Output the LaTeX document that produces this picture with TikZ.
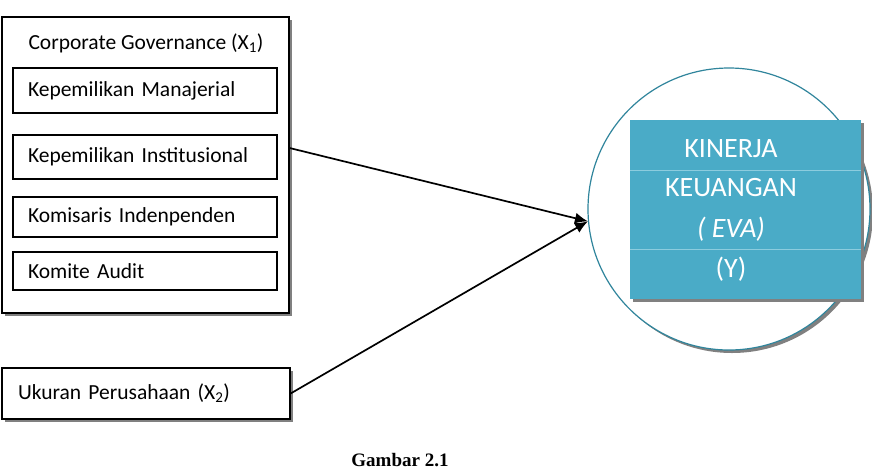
\documentclass[tikz,border=0pt]{standalone}
\usepackage{fontspec}
\setmainfont{Carlito}
\newfontfamily\capfont{Liberation Serif}
\usetikzlibrary{arrows.meta}
\usetikzlibrary{positioning}
\tikzset{box/.style = {draw, fill=white, line width=1.2pt, align=left,
                       inner ysep=0pt, font=\fontsize{21.5}{25}\selectfont}}
\tikzset{shade/.style = {fill=mgrey, draw=none}}
\tikzset{link/.style = {line width=1.7pt, -{Latex[length=13pt, width=11pt]}}}
\definecolor{mgrey}{rgb}{0.5, 0.5, 0.5}
\definecolor{mteal}{rgb}{0.19, 0.52, 0.61}
\definecolor{mcyan}{rgb}{0.29, 0.67, 0.78}
\definecolor{mline}{rgb}{0.55, 0.80, 0.87}

\begin{document}
\begin{tikzpicture}[x=1pt, y=-1pt]
      \useasboundingbox (0, 0) rectangle (872, 472);

      % left group
      \fill [shade] (5, 20) rectangle (292, 316);
      \node [box, minimum width=287pt, minimum height=296pt] (corpgov) at (145.5, 165) {};
      \node [font=\fontsize{21.5}{25}\selectfont] (title) at (146, 43) {Corporate Governance (X\textsubscript{1})};

      \node [box, text width=234pt, inner xsep=15pt, minimum height=45pt] (kepman) at (145, 90.5) {Kepemilikan Manajerial};
      \node [box, text width=234pt, inner xsep=15pt, minimum height=44pt] (kepinst) at (145, 157) {Kepemilikan Institusional};
      \node [box, text width=234pt, inner xsep=15pt, minimum height=40pt] (komind) at (145, 217) {Komisaris Indenpenden};
      \node [box, text width=234pt, inner xsep=15pt, minimum height=38pt] (komaudit) at (145, 271) {Komite Audit};

      \fill [shade] (5, 371) rectangle (293, 422);
      \node [box, text width=256pt, inner xsep=16pt, minimum height=51pt] (ukuran) at (146, 393.5) {Ukuran Perusahaan (X\textsubscript{2})};

      % right group
      \fill [mgrey] (732, 212) circle (141);
      \node [circle, draw=mteal, fill=white, line width=1.2pt, minimum size=282pt] (kinerja) at (729, 209) {};
      \fill [shade] (633, 123) rectangle (864, 302);
      \node [fill=mcyan, minimum width=231pt, minimum height=179pt, inner sep=0pt] (kotak) at (745.5, 209.5) {};
      \draw [mline, line width=0.8pt] (kotak.west |- 0, 170) -- (kotak.east |- 0, 170);
      \draw [mline, line width=0.8pt] (kotak.west |- 0, 249) -- (kotak.east |- 0, 249);
      \begin{scope}[every node/.style={text=white, font=\fontsize{28}{32}\selectfont}]
        \node (baris1) at (731, 149) {KINERJA};
        \node (baris2) at (731, 188) {KEUANGAN};
        \node (baris3) at (731, 229) {\itshape ( EVA)};
        \node (baris4) at (731, 269) {(Y)};
      \end{scope}

      % arrows
      \draw [link] (corpgov.east |- 0, 148) -- (kinerja.185);
      \draw [link] (ukuran.east) -- (kinerja.185);

      \node [anchor=base, font=\capfont\bfseries\fontsize{19}{22}\selectfont] (caption) at (400, 466) {Gambar 2.1};
    \end{tikzpicture}
\end{document}
